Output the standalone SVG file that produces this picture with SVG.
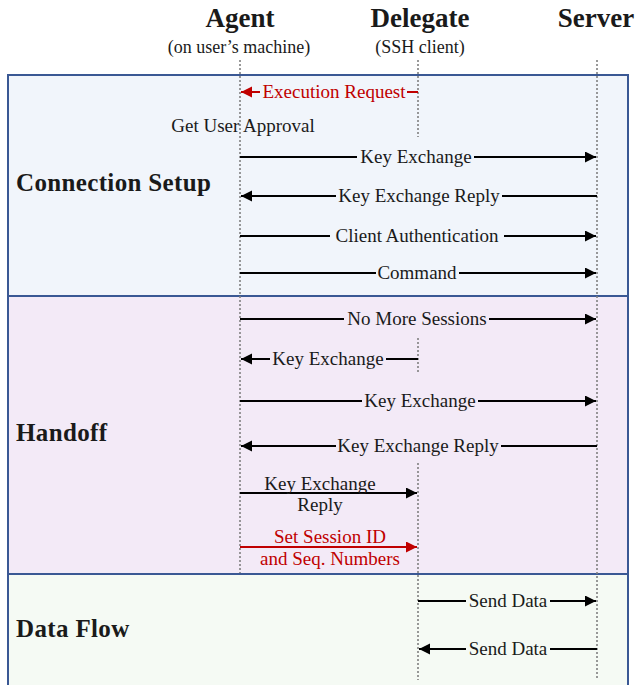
<svg xmlns="http://www.w3.org/2000/svg" width="636" height="685" viewBox="0 0 636 685">
<style>
text{font-family:"Liberation Serif","Times New Roman",serif;fill:#1a1a1a}
.hdr{font-size:27px;font-weight:bold;text-anchor:middle}
.sub{font-size:18px;text-anchor:middle}
.sec{font-size:25px;font-weight:bold;letter-spacing:0.35px}
.lbl{font-size:19px;text-anchor:middle}
.red{fill:#c00000}
.cs{fill:#f1f5fb}.ho{fill:#f3eaf7}.df{fill:#f5faf4}
.life{stroke:#808080;stroke-width:1.6;stroke-dasharray:2 2;fill:none}
.msg{stroke:#000;stroke-width:2.2;fill:none;marker-end:url(#ah)}
.msgr{stroke:#c00000;stroke-width:2.2;fill:none;marker-end:url(#ahr)}
.box{stroke:#3a5894;stroke-width:2}
</style>
<defs>
<marker id="ah" markerUnits="userSpaceOnUse" markerWidth="12" markerHeight="12" refX="11" refY="5.5" orient="auto"><path d="M0,0 L11,5.5 L0,11 z" fill="#000"/></marker>
<marker id="ahr" markerUnits="userSpaceOnUse" markerWidth="12" markerHeight="12" refX="11" refY="5.5" orient="auto"><path d="M0,0 L11,5.5 L0,11 z" fill="#c00000"/></marker>
</defs>
<g id="sections">
<rect id="sec-connection" class="box" x="8" y="75" width="620" height="221" fill="#f1f5fb"/>
<rect id="sec-handoff" class="box" x="8" y="296" width="620" height="278" fill="#f3eaf7"/>
<rect id="sec-dataflow" class="box" x="8" y="574" width="620" height="112" fill="#f5faf4"/>
<text class="sec" x="16" y="191">Connection Setup</text>
<text class="sec" x="16" y="441">Handoff</text>
<text class="sec" x="16" y="637">Data Flow</text>
</g>
<g id="agent">
<text class="hdr" x="240" y="27">Agent</text>
<text class="sub" x="239" y="53">(on user’s machine)</text>
<line class="life" x1="240" y1="60" x2="240" y2="573"/>
</g>
<g id="delegate">
<text class="hdr" x="420" y="27">Delegate</text>
<text class="sub" x="420" y="53">(SSH client)</text>
<line class="life" x1="418" y1="60" x2="418" y2="137"/>
<line class="life" x1="418" y1="338" x2="418" y2="372"/>
<line class="life" x1="418" y1="463" x2="418" y2="680"/>
</g>
<g id="server">
<text class="hdr" x="596" y="27">Server</text>
<line class="life" x1="597" y1="60" x2="597" y2="680"/>
</g>
<g id="connectors">
<line class="msgr" x1="418" y1="92" x2="241" y2="92"/>
<rect class="cs" x="260" y="83" width="147" height="18"/>
<text class="lbl red" x="334" y="98">Execution Request</text>
<text class="lbl" x="243" y="132">Get User Approval</text>
<line class="msg" x1="240" y1="157" x2="596" y2="157"/>
<rect class="cs" x="357" y="148" width="117" height="18"/>
<text class="lbl" x="416" y="163">Key Exchange</text>
<line class="msg" x1="597" y1="196" x2="241" y2="196"/>
<rect class="cs" x="336" y="187" width="166" height="18"/>
<text class="lbl" x="419" y="202">Key Exchange Reply</text>
<line class="msg" x1="240" y1="236" x2="596" y2="236"/>
<rect class="cs" x="330" y="227" width="174" height="18"/>
<text class="lbl" x="417" y="242">Client Authentication</text>
<line class="msg" x1="240" y1="273" x2="596" y2="273"/>
<rect class="cs" x="376" y="264" width="83" height="18"/>
<text class="lbl" x="417" y="279">Command</text>
<line class="msg" x1="240" y1="319" x2="596" y2="319"/>
<rect class="ho" x="344" y="310" width="145" height="18"/>
<text class="lbl" x="417" y="325">No More Sessions</text>
<line class="msg" x1="418" y1="359" x2="241" y2="359"/>
<rect class="ho" x="270" y="350" width="116" height="18"/>
<text class="lbl" x="328" y="365">Key Exchange</text>
<line class="msg" x1="240" y1="401" x2="596" y2="401"/>
<rect class="ho" x="362" y="392" width="116" height="18"/>
<text class="lbl" x="420" y="407">Key Exchange</text>
<line class="msg" x1="597" y1="446" x2="241" y2="446"/>
<rect class="ho" x="336" y="437" width="165" height="18"/>
<text class="lbl" x="418" y="452">Key Exchange Reply</text>
<line class="msg" x1="240" y1="493" x2="417" y2="493"/>
<text class="lbl" x="320" y="490">Key Exchange</text>
<text class="lbl" x="320" y="511">Reply</text>
<line class="msgr" x1="240" y1="547" x2="417" y2="547"/>
<text class="lbl red" x="330" y="543">Set Session ID</text>
<text class="lbl red" x="330" y="565">and Seq. Numbers</text>
<line class="msg" x1="418" y1="601" x2="596" y2="601"/>
<rect class="df" x="466" y="592" width="84" height="18"/>
<text class="lbl" x="508" y="607">Send Data</text>
<line class="msg" x1="597" y1="649" x2="419" y2="649"/>
<rect class="df" x="466" y="640" width="84" height="18"/>
<text class="lbl" x="508" y="655">Send Data</text>
</g>
</svg>
